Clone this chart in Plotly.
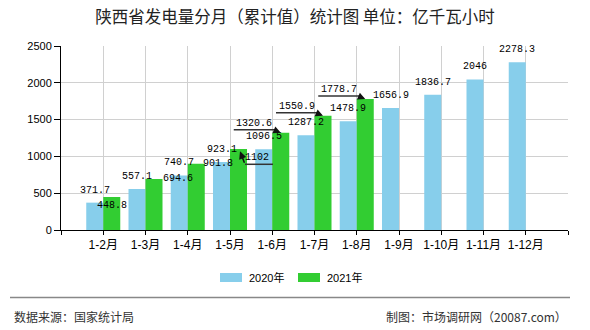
import plotly.graph_objects as go

# ---------------- data ----------------
categories = ["1-2月", "1-3月", "1-4月", "1-5月", "1-6月", "1-7月",
              "1-8月", "1-9月", "1-10月", "1-11月", "1-12月"]
values_2020 = [371.7, 557.1, 740.7, 923.1, 1096.5, 1287.2, 1478.9,
               1656.9, 1836.7, 2046, 2278.3]
values_2021 = [448.8, 694.6, 901.8, 1102, 1320.6, 1550.9, 1778.7]
series_names = ["2020年", "2021年"]
y_tick_values = [0, 500, 1000, 1500, 2000, 2500]
title_text = "陕西省发电量分月（累计值）统计图 单位：亿千瓦小时"
source_text = "数据来源：国家统计局"
maker_text = "制图：市场调研网（20087.com）"

# ---------------- styling / layout ----------------
W, H = 590, 330
L, R, T, B = 61, 22, 46, 100
PW, PH = W - L - R, H - T - B
COLORS = ["#87CEEB", "#32CD32"]
BARGAP = 0.195
HALF = (1 - BARGAP) / 4  # bar centre offset from category centre

LABEL_FONT = dict(family="Liberation Mono, DejaVu Sans Mono", size=10, color="#000000")

# label offsets in pixels (dx right, dy up) relative to bar top centre
default_shift = (0, 12.5)
shift_2021 = [(0, -8.5), (23.5, 0), (21.5, 0), (18.5, -8.5),
              (-26.5, 9.5), (-26.5, 9.5), (-26.5, 10)]
# leader lines for some 2021 labels: (underline x0, x1, y, arrow tail x, y, tip x, y)
leaders_2021 = {
    3: (6.5, 34.5, -15.4, 6.5, -15.4, 1.5, -2.4),
    4: (-47, -5, 3, -7, 3, 0, 0),
    5: (-47, -5, 3, -7, 3, 0, 0),
    6: (-47, -5, 3, -7, 3, 0, 0),
}


def px_x(p):
    return (p - L) / PW


def px_y(p):
    return (H - B - p) / PH


xpos = list(range(1, len(categories) + 1))

fig = go.Figure()
fig.add_trace(go.Bar(x=xpos, y=values_2020, name=series_names[0],
                     marker=dict(color=COLORS[0], line=dict(width=0)),
                     hoverinfo="y"))
fig.add_trace(go.Bar(x=xpos[:len(values_2021)], y=values_2021, name=series_names[1],
                     marker=dict(color=COLORS[1], line=dict(width=0)),
                     hoverinfo="y"))

annotations = []
shapes = []


def fmt(v):
    return ("%g" % v)


for i, v in enumerate(values_2020):
    dx, dy = default_shift
    annotations.append(dict(x=xpos[i] - HALF, y=v, xref="x", yref="y", text=fmt(v),
                            showarrow=False, xshift=dx, yshift=dy,
                            xanchor="center", yanchor="middle", font=LABEL_FONT))

for i, v in enumerate(values_2021):
    dx, dy = shift_2021[i]
    xc = xpos[i] + HALF
    annotations.append(dict(x=xc, y=v, xref="x", yref="y", text=fmt(v),
                            showarrow=False, xshift=dx, yshift=dy,
                            xanchor="center", yanchor="middle", font=LABEL_FONT))
    if i in leaders_2021:
        ux0, ux1, uy, tx, ty, px_, py_ = leaders_2021[i]
        shapes.append(dict(type="line", xref="x", yref="y",
                           xsizemode="pixel", ysizemode="pixel",
                           xanchor=xc, yanchor=v,
                           x0=ux0, x1=ux1, y0=uy, y1=uy,
                           line=dict(color="#333333", width=1.5)))
        annotations.append(dict(x=xc, y=v, xref="x", yref="y", text="",
                                showarrow=True, xshift=px_, yshift=py_,
                                ax=tx - px_, ay=-(ty - py_),
                                arrowhead=2, arrowsize=1, arrowwidth=1.5,
                                arrowcolor="#111111", standoff=0, startstandoff=0))

# manual legend
legend_items = [(220, 242, 247), (298, 320, 325)]
for (sx0, sx1, tx), name, col in zip(legend_items, series_names, COLORS):
    shapes.append(dict(type="rect", xref="paper", yref="paper",
                       x0=px_x(sx0), x1=px_x(sx1), y0=px_y(282), y1=px_y(273),
                       fillcolor=col, line=dict(width=0)))
    annotations.append(dict(x=px_x(tx), y=px_y(277.5), xref="paper", yref="paper",
                            text=name, showarrow=False, xanchor="left", yanchor="middle",
                            font=dict(family="Liberation Sans, Noto Sans CJK SC",
                                      size=11, color="#000000")))

# footer
shapes.append(dict(type="line", xref="paper", yref="paper",
                   x0=px_x(10), x1=px_x(570), y0=px_y(297.5), y1=px_y(297.5),
                   line=dict(color="#888888", width=1.5)))
annotations.append(dict(x=px_x(12), y=px_y(316), xref="paper", yref="paper",
                        text=source_text, showarrow=False, xanchor="left", yanchor="middle",
                        font=dict(family="Noto Sans CJK SC", size=12, color="#333333")))
annotations.append(dict(x=px_x(569), y=px_y(316), xref="paper", yref="paper",
                        text=maker_text, showarrow=False, xanchor="right", yanchor="middle",
                        font=dict(family="Noto Sans CJK SC", size=12, color="#333333")))

fig.update_layout(
    width=W, height=H,
    margin=dict(l=L, r=R, t=T, b=B, pad=0),
    paper_bgcolor="#ffffff", plot_bgcolor="#ffffff",
    barmode="group", bargap=BARGAP, bargroupgap=0,
    showlegend=False,
    title=dict(text=title_text, x=0.5, xref="container", xanchor="center",
               y=1 - 17 / H, yref="container", yanchor="middle",
               font=dict(family="Noto Sans CJK SC", size=16.5, color="#222222")),
    annotations=annotations,
    shapes=shapes,
    xaxis=dict(range=[0, len(categories) + 1],
               tickvals=list(range(0, len(categories) + 2)),
               ticktext=[""] + categories + [""],
               showgrid=True, gridcolor="#d0d0d0", gridwidth=1,
               showline=True, linecolor="#000000", linewidth=1,
               ticks="outside", ticklen=4, tickcolor="#000000",
               zeroline=False,
               tickfont=dict(family="Liberation Sans, Noto Sans CJK SC", size=12, color="#000000")),
    yaxis=dict(range=[0, 2500], tickvals=y_tick_values,
               showgrid=True, gridcolor="#d0d0d0", gridwidth=1,
               showline=True, linecolor="#000000", linewidth=1,
               ticks="outside", ticklen=6, tickcolor="#000000",
               zeroline=False,
               tickfont=dict(family="Liberation Sans", size=11, color="#000000")),
)

fig.write_html("out.html")
